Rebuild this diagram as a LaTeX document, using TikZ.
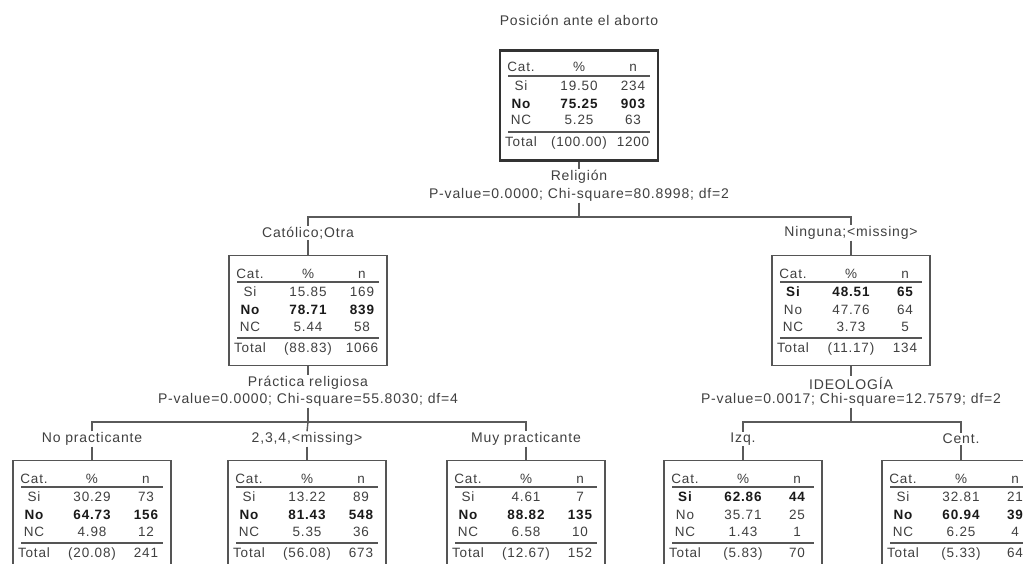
\documentclass[tikz,border=0pt]{standalone}
\usepackage{fontspec}
\setmainfont{Liberation Sans}[LetterSpace=6]
\definecolor{txt}{HTML}{404040}
\definecolor{txtb}{HTML}{1A1A1A}
\definecolor{linec}{HTML}{5A5A5A}
\definecolor{boxc}{HTML}{555555}
\definecolor{rootc}{HTML}{333333}
\tikzset{
 lbl/.style={inner sep=1pt, font=\fontsize{14}{16}\selectfont, text=txt},
 tb/.style={inner sep=0pt, font=\fontsize{13.5}{16}\selectfont, text=txt},
 tbb/.style={inner sep=0pt, font=\fontsize{13.5}{16}\selectfont\bfseries, text=txtb},
 nbox/.style={draw=boxc, line width=1.3pt, minimum width=158pt, minimum height=110pt, inner sep=0pt, fill=white},
 rbox/.style={nbox, draw=rootc, line width=2.6pt},
 conn/.style={draw=linec, line width=1.4pt},
 rulel/.style={draw=boxc, line width=1.2pt},
}
\newcommand\mkbox[4]{%
  \node[#4, anchor=north] (#1) at (#2,#3) {};
  \path (#1.north) ++(-58,23) node[tb,anchor=base] (#1-h1) {Cat.};
  \path (#1.north) ++(0,23) node[tb,anchor=base] (#1-h2) {\%};
  \path (#1.north) ++(54,23) node[tb,anchor=base] (#1-h3) {n};
  \draw[rulel] (#1.north) ++(-71,27) -- ++(142,0);
  \draw[rulel] (#1.north) ++(-71,83) -- ++(142,0);
}
\newcommand\mkrow[7]{%
  \path (#1.north) ++(-58,#3) node[#4,anchor=base] (#1-#2a) {#5};
  \path (#1.north) ++(0,#3) node[#4,anchor=base] (#1-#2b) {#6};
  \path (#1.north) ++(54,#3) node[#4,anchor=base] (#1-#2c) {#7};
}
\newcommand\mkrows[5]{% name, bold-row (s/o), Si triple, No triple, NC triple, Total triple via nested
}
\begin{document}
\begin{tikzpicture}[x=1pt,y=-1pt]
\useasboundingbox (0,0) rectangle (1023,564);
\clip (0,0) rectangle (1023,564);
\fill[white] (0,0) rectangle (1023,564);

% title and root
\node[lbl] (title) at (579,20) {Posición ante el aborto};
\mkbox{root}{579}{49}{rbox}
\mkrow{root}{s}{41.5}{tb}{Si}{19.50}{234}
\mkrow{root}{o}{59.5}{tbb}{No}{75.25}{903}
\mkrow{root}{c}{76}{tb}{NC}{5.25}{63}
\mkrow{root}{t}{97.5}{tb}{Total}{(100.00)}{1200}
\node[lbl] (rvar) at (579,177) {Religión};
\node[lbl] (rstat) at (579,195) {P-value=0.0000; Chi-square=80.8998; df=2};
\coordinate (j0) at (579,217);

% level 2
\node[lbl] (catlab) at (308,233) {Católico;Otra};
\node[lbl] (ninlab) at (851,233) {Ninguna;<missing>};

\mkbox{cat}{308}{255}{nbox}
\mkrow{cat}{s}{41.5}{tb}{Si}{15.85}{169}
\mkrow{cat}{o}{59.5}{tbb}{No}{78.71}{839}
\mkrow{cat}{c}{76}{tb}{NC}{5.44}{58}
\mkrow{cat}{t}{97.5}{tb}{Total}{(88.83)}{1066}

\mkbox{nin}{851}{255}{nbox}
\mkrow{nin}{s}{41.5}{tbb}{Si}{48.51}{65}
\mkrow{nin}{o}{59.5}{tb}{No}{47.76}{64}
\mkrow{nin}{c}{76}{tb}{NC}{3.73}{5}
\mkrow{nin}{t}{97.5}{tb}{Total}{(11.17)}{134}

\node[lbl] (cvar) at (308,383) {Práctica religiosa};
\node[lbl] (cstat) at (308,400) {P-value=0.0000; Chi-square=55.8030; df=4};
\coordinate (j1) at (308,422);
\node[lbl] (nvar) at (851,383) {IDEOLOGÍA};
\node[lbl] (nstat) at (851,400) {P-value=0.0017; Chi-square=12.7579; df=2};
\coordinate (j2) at (851,422);

% level 3
\node[lbl] (nplab) at (92,439) {No practicante};
\node[lbl] (mslab) at (307,439) {2,3,4,<missing>};
\node[lbl] (mplab) at (526,439) {Muy practicante};
\node[lbl] (izlab) at (743,439) {Izq.};
\node[lbl] (celab) at (961,439) {Cent.};

\mkbox{np}{92}{460}{nbox}
\mkrow{np}{s}{41.5}{tb}{Si}{30.29}{73}
\mkrow{np}{o}{59.5}{tbb}{No}{64.73}{156}
\mkrow{np}{c}{76}{tb}{NC}{4.98}{12}
\mkrow{np}{t}{97.5}{tb}{Total}{(20.08)}{241}

\mkbox{ms}{307}{460}{nbox}
\mkrow{ms}{s}{41.5}{tb}{Si}{13.22}{89}
\mkrow{ms}{o}{59.5}{tbb}{No}{81.43}{548}
\mkrow{ms}{c}{76}{tb}{NC}{5.35}{36}
\mkrow{ms}{t}{97.5}{tb}{Total}{(56.08)}{673}

\mkbox{mp}{526}{460}{nbox}
\mkrow{mp}{s}{41.5}{tb}{Si}{4.61}{7}
\mkrow{mp}{o}{59.5}{tbb}{No}{88.82}{135}
\mkrow{mp}{c}{76}{tb}{NC}{6.58}{10}
\mkrow{mp}{t}{97.5}{tb}{Total}{(12.67)}{152}

\mkbox{iz}{743}{460}{nbox}
\mkrow{iz}{s}{41.5}{tbb}{Si}{62.86}{44}
\mkrow{iz}{o}{59.5}{tb}{No}{35.71}{25}
\mkrow{iz}{c}{76}{tb}{NC}{1.43}{1}
\mkrow{iz}{t}{97.5}{tb}{Total}{(5.83)}{70}

\mkbox{ce}{961}{460}{nbox}
\mkrow{ce}{s}{41.5}{tb}{Si}{32.81}{21}
\mkrow{ce}{o}{59.5}{tbb}{No}{60.94}{39}
\mkrow{ce}{c}{76}{tb}{NC}{6.25}{4}
\mkrow{ce}{t}{97.5}{tb}{Total}{(5.33)}{64}

% connectors
\draw[conn] (root.south) -- (rvar.north);
\draw[conn] (rstat.south) -- (j0);
\draw[conn] (catlab.north) |- (j0) -| (ninlab.north);
\draw[conn] (catlab.south) -- (cat.north);
\draw[conn] (ninlab.south) -- (nin.north);

\draw[conn] (cat.south) -- (cvar.north);
\draw[conn] (cstat.south) -- (j1);
\draw[conn] (nplab.north) |- (j1) -| (mplab.north);
\draw[conn] (mslab.north) -- (j1);
\draw[conn] (nplab.south) -- (np.north);
\draw[conn] (mslab.south) -- (ms.north);
\draw[conn] (mplab.south) -- (mp.north);

\draw[conn] (nin.south) -- (nvar.north);
\draw[conn] (nstat.south) -- (j2);
\draw[conn] (izlab.north) |- (j2) -| (celab.north);
\draw[conn] (izlab.south) -- (iz.north);
\draw[conn] (celab.south) -- (ce.north);
\end{tikzpicture}
\end{document}
